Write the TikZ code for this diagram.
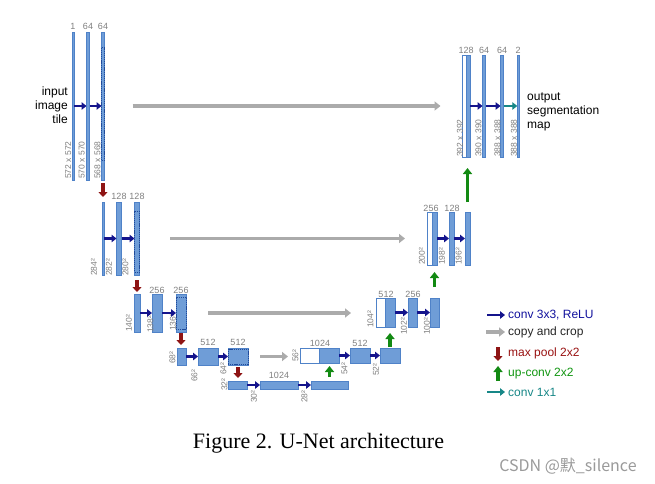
\documentclass[tikz,border=0pt]{standalone}
\usepackage{fontspec}
\setmainfont{Liberation Sans}
\newfontfamily\capfont{Liberation Serif}
\newfontfamily\cjkfont{Noto Sans CJK SC}
\usetikzlibrary{arrows.meta}
\definecolor{barblue}{HTML}{6F9DD7}
\definecolor{barline}{HTML}{4F82C8}
\definecolor{cropline}{HTML}{1F4A9A}
\definecolor{convc}{HTML}{14148C}
\definecolor{copyc}{HTML}{ABABAB}
\definecolor{poolc}{HTML}{8E1414}
\definecolor{upc}{HTML}{138A13}
\definecolor{onec}{HTML}{178787}
\definecolor{lblc}{HTML}{808080}
\definecolor{wmc}{HTML}{9A9A9A}
\begin{document}
\begin{tikzpicture}[x=1pt,y=-1pt,
  bx/.style 2 args={minimum width=#1pt, minimum height=#2pt},
  bar/.style={shape=rectangle, draw=barline, fill=barblue, line width=0.4pt, inner sep=0pt, outer sep=0pt},
  wbar/.style={bar, fill=white},
  crop/.style={shape=rectangle, draw=cropline, dash pattern=on 1.2pt off 0.9pt, line width=0.7pt, inner sep=0pt, outer sep=0pt},
  lbl/.style={font=\fontsize{9}{10}\selectfont, text=lblc, inner sep=0pt},
  dim/.style={font=\fontsize{8.5}{9}\selectfont, text=lblc, inner sep=0pt, rotate=90, anchor=west},
  txt/.style={font=\fontsize{12}{14}\selectfont, inner sep=0pt},
  conv/.style={draw=convc, line width=2.5pt, -{Triangle[length=5pt,width=7.5pt]}},
  copyarr/.style={draw=copyc, line width=3.5pt, -{Triangle[length=6pt,width=9pt]}},
  pool/.style={draw=poolc, line width=3.5pt, -{Triangle[length=5pt,width=9pt]}},
  upc/.style={draw=upc, line width=3.5pt, -{Triangle[length=6pt,width=9pt]}},
  onex/.style={draw=onec, line width=2.5pt, -{Triangle[length=5pt,width=7.5pt]}}
]
\useasboundingbox (0,0) rectangle (655,483);
\fill[white] (0,0) rectangle (655,483);

% ---------- level 1 left
\node[bar, bx={1.5}{148}] (a1) at (73,106) {};
\node[bar, bx={3}{148}] (a2) at (88,106) {};
\node[bar, bx={3}{148}] (a3) at (103,106) {};
\node[crop, bx={3}{113}] (a3c) at (103,103.5) {};
\node[lbl] (ta1) at (73,26) {1};
\node[lbl] (ta2) at (88,26) {64};
\node[lbl] (ta3) at (103,26) {64};
\node[dim] (da1) at (68.3,179) {572 x 572};
\node[dim] (da2) at (81.7,179) {570 x 570};
\node[dim] (da3) at (97.5,179) {568 x 568};
\draw[conv] (a1) -- (a2);
\draw[conv] (a2) -- (a3);
\node[txt, align=right, anchor=east] (intext) at (68,105) {input\\image\\tile};

% ---------- level 1 right
\node[wbar, bx={4}{102}] (e1w) at (464.5,106) {};
\node[bar, bx={3.5}{102}] (e1b) at (468.25,106) {};
\node[bar, bx={3}{102}] (e2) at (484,106) {};
\node[bar, bx={3}{102}] (e3) at (502,106) {};
\node[bar, bx={1.5}{102}] (e4) at (518,106) {};
\node[lbl] (te1) at (466,50) {128};
\node[lbl] (te2) at (484,50) {64};
\node[lbl] (te3) at (502,50) {64};
\node[lbl] (te4) at (518,50) {2};
\node[dim] (de1) at (460,157) {392 x 392};
\node[dim] (de2) at (478.5,157) {390 x 390};
\node[dim] (de3) at (497.5,157) {388 x 388};
\node[dim] (de4) at (514,157) {388 x 388};
\draw[conv] (e1b) -- (e2);
\draw[conv] (e2) -- (e3);
\draw[onex] (e3) -- (e4);
\node[txt, align=left, anchor=west] (outtext) at (527,112) {output\\segmentation\\map};

% ---------- level 2 left
\node[bar, bx={2}{73}] (b1) at (103,238.5) {};
\node[bar, bx={5}{73}] (b2) at (119,238.5) {};
\node[bar, bx={5}{73}] (b3) at (137,238.5) {};
\node[crop, bx={5}{61}] (b3c) at (137,241.5) {};
\node[lbl] (tb2) at (119,196) {128};
\node[lbl] (tb3) at (137,196) {128};
\node[dim] (db1) at (94,276) {284²};
\node[dim] (db2) at (109,276) {282²};
\node[dim] (db3) at (125.5,276) {280²};
\draw[conv] (b1) -- (b2);
\draw[conv] (b2) -- (b3);

% ---------- level 2 right
\node[wbar, bx={5}{53}] (f1w) at (429.5,238.5) {};
\node[bar, bx={5}{53}] (f1b) at (434.5,238.5) {};
\node[bar, bx={5}{53}] (f2) at (451.5,238.5) {};
\node[bar, bx={5}{53}] (f3) at (467.5,238.5) {};
\node[lbl] (tf1) at (431,208) {256};
\node[lbl] (tf2) at (452,208) {128};
\node[dim] (df1) at (422,265) {200²};
\node[dim] (df2) at (442,265) {198²};
\node[dim] (df3) at (458.7,265) {196²};
\draw[conv] (f1b) -- (f2);
\draw[conv] (f2) -- (f3);

% ---------- level 3 left
\node[bar, bx={6}{38}] (c1) at (137,313) {};
\node[bar, bx={10}{38}] (c2) at (157,313) {};
\node[bar, bx={10}{38}] (c3) at (181,313) {};
\node[crop, bx={10}{32}] (c3c) at (181,313) {};
\node[lbl] (tc2) at (157,290) {256};
\node[lbl] (tc3) at (181,290) {256};
\node[dim] (dc1) at (129,332) {140²};
\node[dim] (dc2) at (150.5,333) {138²};
\node[dim] (dc3) at (173,331) {136²};
\draw[conv] (c1) -- (c2);
\draw[conv] (c2) -- (c3);

% ---------- level 3 right
\node[wbar, bx={9}{29}] (g1w) at (380.5,312.5) {};
\node[bar, bx={10}{29}] (g1b) at (390,312.5) {};
\node[bar, bx={9}{29}] (g2) at (412.5,312.5) {};
\node[bar, bx={9}{29}] (g3) at (434.5,312.5) {};
\node[lbl] (tg1) at (386,294) {512};
\node[lbl] (tg2) at (413,294) {256};
\node[dim] (dg1) at (370.5,328) {104²};
\node[dim] (dg2) at (404,335) {102²};
\node[dim] (dg3) at (427,335) {100²};
\draw[conv] (g1b) -- (g2);
\draw[conv] (g2) -- (g3);

% ---------- level 4 left
\node[bar, bx={9}{17}] (d1) at (181.5,356.5) {};
\node[bar, bx={20}{17}] (d2) at (208,356.5) {};
\node[bar, bx={20}{17}] (d3) at (238,356.5) {};
\node[crop, bx={20}{15}] (d3c) at (238,356.5) {};
\node[lbl] (td2) at (208,342) {512};
\node[lbl] (td3) at (238,342) {512};
\node[dim] (dd1) at (172.5,364) {68²};
\node[dim] (dd2) at (194.5,382) {66²};
\node[dim] (dd3) at (223.5,375) {64²};
\draw[conv] (d1) -- (d2);
\draw[conv] (d2) -- (d3);

% ---------- level 4 right
\node[wbar, bx={19}{15}] (h1w) at (309.5,355.5) {};
\node[bar, bx={20}{15}] (h1b) at (329,355.5) {};
\node[bar, bx={20}{15}] (h2) at (360,355.5) {};
\node[bar, bx={20}{15}] (h3) at (390,355.5) {};
\node[lbl] (th1) at (320,343) {1024};
\node[lbl] (th2) at (360,343) {512};
\node[dim] (dh1) at (295.5,362) {56²};
\node[dim] (dh2) at (344.5,375) {54²};
\node[dim] (dh3) at (376,376) {52²};
\draw[conv] (h1b) -- (h2);
\draw[conv] (h2) -- (h3);

% ---------- level 5
\node[bar, bx={19}{8}] (k1) at (237.5,385) {};
\node[bar, bx={38}{8}] (k2) at (279,385) {};
\node[bar, bx={37}{8}] (k3) at (329.5,385) {};
\node[lbl] (tk2) at (279,375.5) {1024};
\node[dim] (dk1) at (224.5,391) {32²};
\node[dim] (dk2) at (254,403) {30²};
\node[dim] (dk3) at (304.5,403) {28²};
\draw[conv] (k1) -- (k2);
\draw[conv] (k2) -- (k3);

% ---------- copy and crop
\draw[copyarr, shorten <=28pt, shorten >=22pt] (a3.east) -- (a3.east -| e1w.west);
\draw[copyarr, shorten <=30.5pt, shorten >=22pt] (b3.east) -- (b3.east -| f1w.west);
\draw[copyarr, shorten <=22pt, shorten >=25pt] (c3.east) -- (c3.east -| g1w.west);
\draw[copyarr, shorten <=12pt, shorten >=12pt] (d3.east) -- (d3.east -| h1w.west);

% ---------- max pool
\draw[pool, shorten <=3pt, shorten >=5pt] (a3.south) -- (a3.south |- b1.north);
\draw[pool, shorten <=5pt, shorten >=2pt] (b3.south) -- (b3.south |- c1.north);
\draw[pool, shorten <=1pt, shorten >=3pt] (c3.south) -- (c3.south |- d1.north);
\draw[pool, shorten <=2pt, shorten >=3pt] (d3.south) -- (d3.south |- k1.north);

% ---------- up-conv
\draw[upc, shorten <=4pt, shorten >=3pt] (k3.north) -- (k3.north |- h1b.south);
\draw[upc, shorten <=1pt, shorten >=6pt] (h3.north) -- (h3.north |- g1b.south);
\draw[upc, shorten <=11pt, shorten >=7pt] (g3.north) -- (g3.north |- f1b.south);
\draw[upc, shorten <=10pt, shorten >=11pt] (f3.north) -- (f3.north |- e1b.south);

% ---------- legend
\node[txt, anchor=west, text=convc!85!blue] (lg1) at (508,315) {conv 3x3, ReLU};
\node[txt, anchor=west, text=black!85] (lg2) at (508,332) {copy and crop};
\node[txt, anchor=west, text=poolc!90!red] (lg3) at (508,353) {max pool 2x2};
\node[txt, anchor=west, text=upc!90!green] (lg4) at (508,374) {up-conv 2x2};
\node[txt, anchor=west, text=onec] (lg5) at (508,392) {conv 1x1};
\coordinate (l1s) at (487,315);
\coordinate (l2s) at (486,332);
\coordinate (l3s) at (498,347);
\coordinate (l3e) at (498,361);
\coordinate (l4s) at (498,381);
\coordinate (l4e) at (498,366);
\coordinate (l5s) at (487,392);
\draw[conv, shorten >=3pt] (l1s) -- (l1s -| lg1.west);
\draw[copyarr, shorten >=3pt] (l2s) -- (l2s -| lg2.west);
\draw[pool] (l3s) -- (l3e);
\draw[upc] (l4s) -- (l4e);
\draw[onex, shorten >=3pt] (l5s) -- (l5s -| lg5.west);

% ---------- caption and watermark
\node[font=\capfont\fontsize{22}{24}\selectfont, anchor=base, inner sep=0pt] (cap) at (318.5,448) {Figure 2. U-Net architecture};
\node[font=\cjkfont\fontsize{16}{17}\selectfont, text=wmc, anchor=base, inner sep=0pt] (wm) at (568,471) {CSDN @默\_silence};
\end{tikzpicture}
\end{document}
